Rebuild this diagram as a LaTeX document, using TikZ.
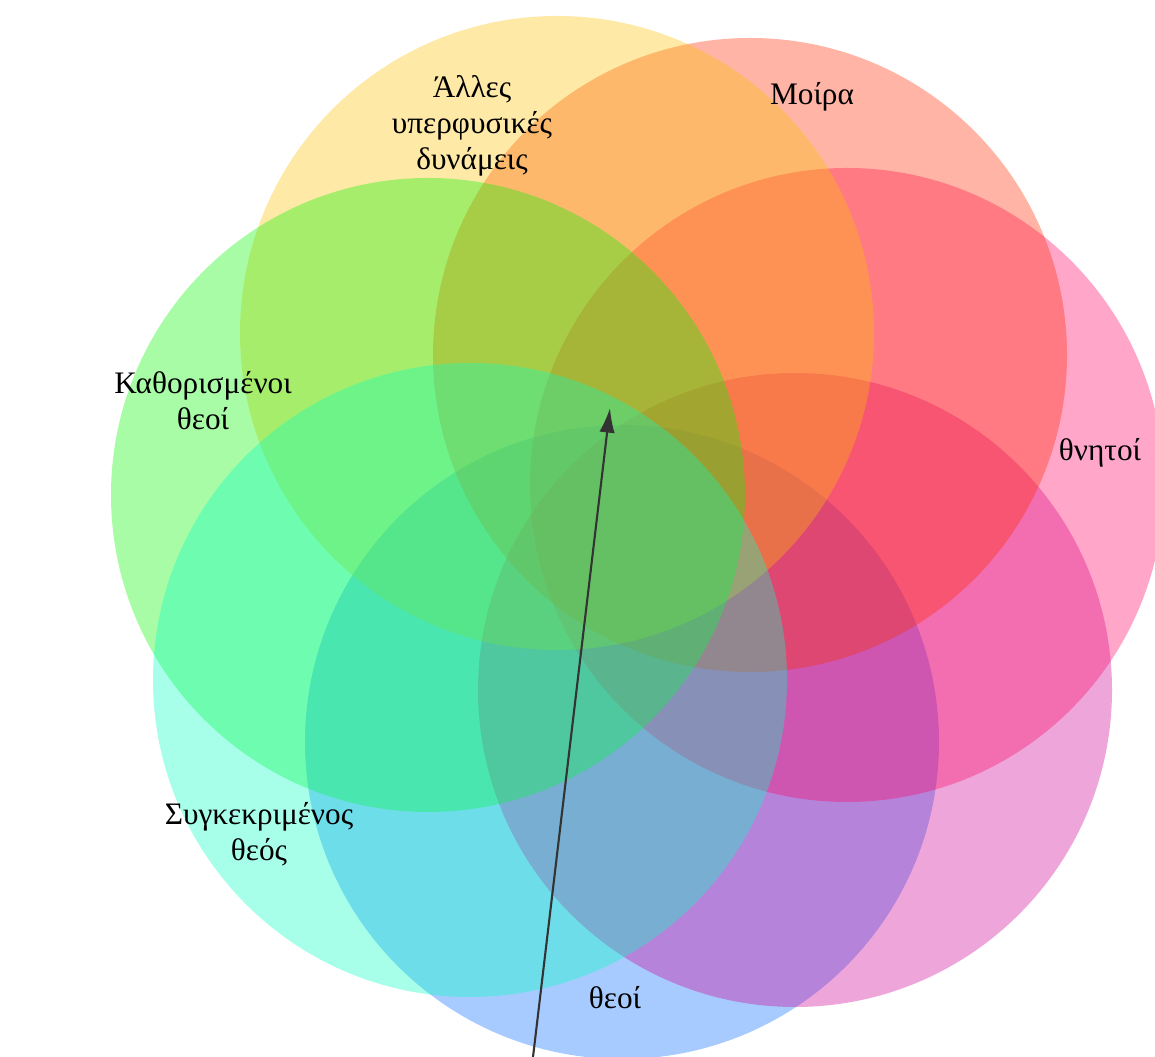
\documentclass[tikz,border=0pt]{standalone}
\usepackage{fontspec}
\setmainfont{Liberation Serif}
\usetikzlibrary{arrows.meta}

\definecolor{cyellow}{RGB}{252,192,0}
\definecolor{csalmon}{RGB}{255,41,0}
\definecolor{cpink}{RGB}{255,1,101}
\definecolor{cmagenta}{RGB}{206,1,149}
\definecolor{cblue}{RGB}{6,107,255}
\definecolor{caqua}{RGB}{4,255,195}
\definecolor{cgreen}{RGB}{6,246,0}
\definecolor{carrow}{HTML}{333333}

\tikzset{
  set/.style={fill=#1, fill opacity=0.35},
  lbl/.style={align=center, font=\fontsize{8.9}{10.3}\selectfont}
}

\begin{document}
\begin{tikzpicture}
\useasboundingbox (0,0) rectangle (11.55,10.57);

% sets, back to front
\fill[set=cblue]    (6.22,3.15) circle (3.17);
\fill[set=cmagenta] (7.95,3.67) circle (3.17);
\fill[set=cpink]    (8.47,5.72) circle (3.17);
\fill[set=csalmon]  (7.50,7.02) circle (3.17);
\fill[set=cyellow]  (5.57,7.24) circle (3.17);
\fill[set=cgreen]   (4.28,5.62) circle (3.17);
\fill[set=caqua]    (4.70,3.77) circle (3.17);

% labels
\node[lbl] (alles) at (4.72,9.31) {Άλλες\\υπερφυσικές\\δυνάμεις};
\node[lbl] (moira) at (8.12,9.60) {Μοίρα};
\node[lbl] (kathor) at (2.03,6.56) {Καθορισμένοι\\θεοί};
\node[lbl] (thnitoi) at (11.00,6.04) {θνητοί};
\node[lbl] (sygk) at (2.59,2.23) {Συγκεκριμένος\\θεός};
\node[lbl] (theoi) at (6.15,0.59) {θεοί};

\coordinate (start) at (5.33,0);
\coordinate (tip) at (6.10,6.49);
\draw[carrow, line width=0.6pt, -{Latex[length=7pt,width=4.4pt]}] (start) -- (tip);
\end{tikzpicture}
\end{document}
